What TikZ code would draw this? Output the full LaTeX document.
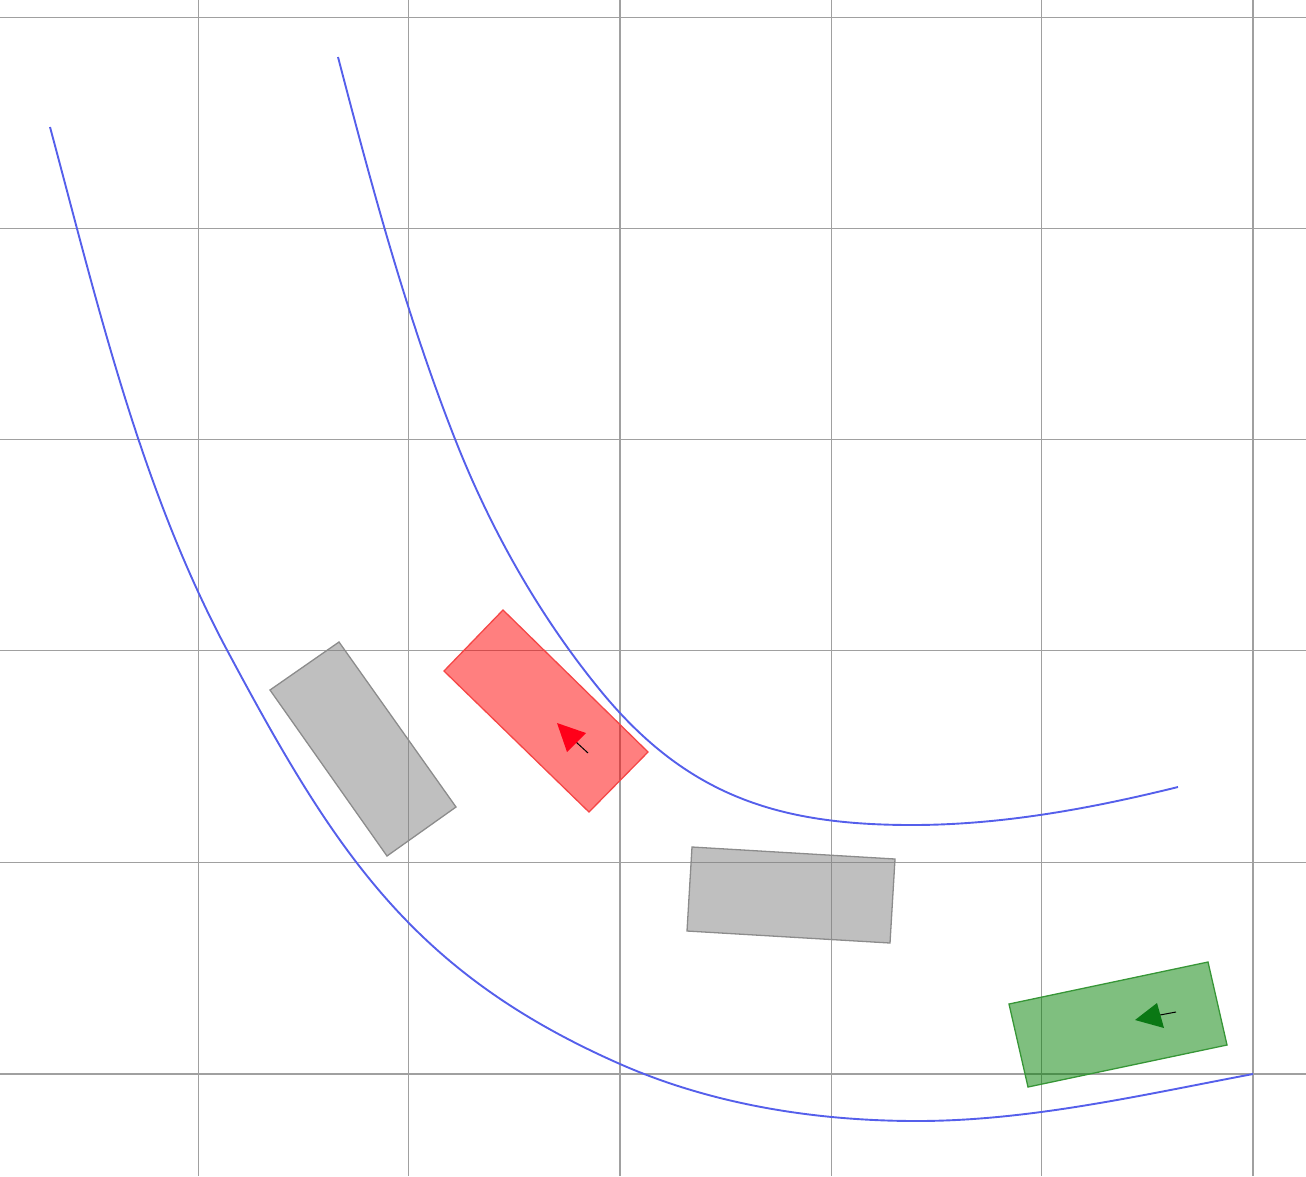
\documentclass[tikz,border=0pt]{standalone}
\definecolor{gridc}{RGB}{160,160,160}
\definecolor{roadc}{RGB}{85,95,235}
\definecolor{grayc}{RGB}{128,128,128}
\definecolor{grayedge}{RGB}{140,140,140}
\definecolor{redc}{RGB}{255,0,0}
\definecolor{rededge}{RGB}{245,70,70}
\definecolor{greenc}{RGB}{0,128,0}
\definecolor{greenedge}{RGB}{55,150,55}
\definecolor{redarrow}{RGB}{255,0,25}
\definecolor{greenarrow}{RGB}{10,120,20}
\begin{document}
\begin{tikzpicture}[x=1pt,y=-1pt,line join=miter,
  gridline/.style={draw=gridc,line width=1.1pt},
  roadline/.style={draw=roadc,line width=1.9pt},
  graycar/.style={fill=grayc,fill opacity=0.5,draw=grayedge,line width=1.3pt},
  redcar/.style={fill=redc,fill opacity=0.5,draw=rededge,line width=1.3pt},
  greencar/.style={fill=greenc,fill opacity=0.5,draw=greenedge,line width=1.3pt},
  stem/.style={draw=black,line width=1pt}]
\useasboundingbox (0,0) rectangle (1306,1176);
% grid
\foreach \gx in {198.7,408.3,620,831.7,1041.7,1253}{\draw[gridline] (\gx,0) -- (\gx,1176);}
\foreach \gy in {17.3,228.8,439.5,650.7,862.3,1074}{\draw[gridline] (0,\gy) -- (1306,\gy);}
% outer road edge
\draw[roadline] (50,127) .. controls (97.8,304.7) and (140.3,487.7) .. (227,650)
  .. controls (334.4,851) and (411.4,972.1) .. (620,1064)
  .. controls (712.4,1104.7) and (816,1121) .. (917,1121)
  .. controls (1030,1121) and (1142,1094.9) .. (1253,1074);
% inner road edge
\draw[roadline] (338,57) .. controls (371.6,185.7) and (406.3,315.3) .. (455,439)
  .. controls (490.4,528.9) and (538.8,615.1) .. (600,690)
  .. controls (687.4,797) and (780,825) .. (912,825)
  .. controls (1003,825) and (1093,808) .. (1178,787);
% gray cars
\draw[graycar] (339,642) -- (270,690) -- (387,856) -- (456,807) -- cycle;
\draw[graycar] (692,847) -- (687,931) -- (890,943) -- (895,859) -- cycle;
% red car
\draw[redcar] (503,610) -- (444,671) -- (589,812) -- (648,752) -- cycle;
\draw[stem] (588,753) -- (576,742);
\fill[redarrow] (557,723) -- (586,733) -- (567,752) -- cycle;
% green car
\draw[greencar] (1009,1004) -- (1028,1087) -- (1227,1045) -- (1208,962) -- cycle;
\draw[stem] (1176,1012) -- (1160,1015);
\fill[greenarrow] (1135,1020) -- (1157,1003) -- (1164,1028) -- cycle;
\end{tikzpicture}
\end{document}
